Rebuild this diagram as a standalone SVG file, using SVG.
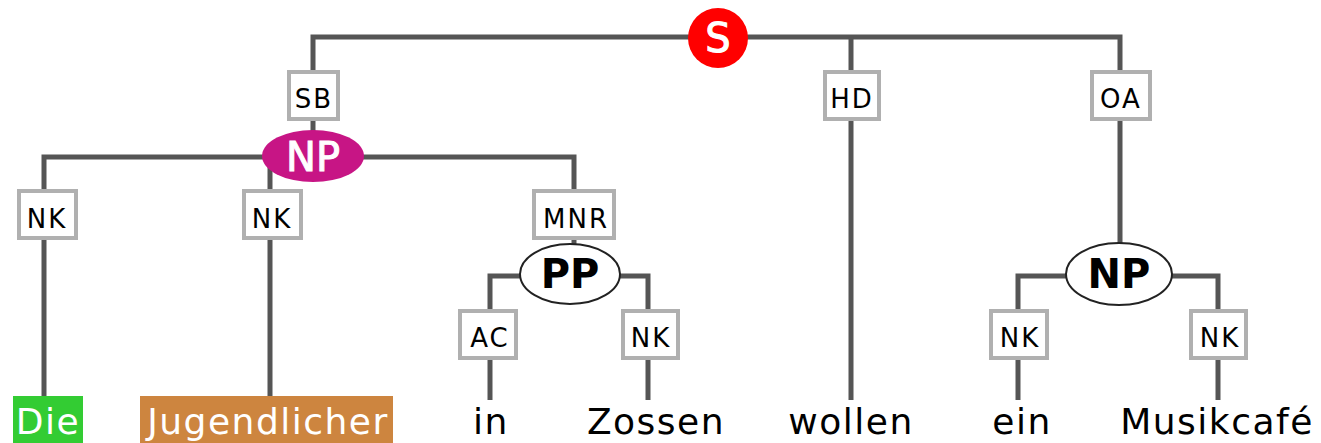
<svg xmlns="http://www.w3.org/2000/svg" width="1321" height="443" viewBox="0 0 1321 443">
<style>
.e{fill:none;stroke:#555;stroke-width:5}
.lb rect{fill:#fff;stroke:#b0b0b0;stroke-width:4}
.lb text{font-family:"DejaVu Sans",sans-serif;font-size:26px;letter-spacing:2px;fill:#000;text-anchor:middle}
.w{font-family:"DejaVu Sans",sans-serif;font-size:36px;letter-spacing:1.5px;text-anchor:middle;fill:#000}
.cat{font-family:"DejaVu Sans",sans-serif;font-size:40px;text-anchor:middle}
.b{font-weight:bold}
</style>
<rect width="1321" height="443" fill="#fff"/>
<g id="connectors">
<path class="e" d="M313 72V37H1120V72"/>
<path class="e" d="M851 37V72"/>
<path class="e" d="M313 120V140"/>
<path class="e" d="M44 190V157H574V190"/>
<path class="e" d="M270 157V190"/>
<path class="e" d="M44 238V396"/>
<path class="e" d="M270 238V396"/>
<path class="e" d="M574 238V250"/>
<path class="e" d="M490 310V276H648V310"/>
<path class="e" d="M490 358V400"/>
<path class="e" d="M648 358V400"/>
<path class="e" d="M851 120V400"/>
<path class="e" d="M1120 120V250"/>
<path class="e" d="M1018 310V276H1218V310"/>
<path class="e" d="M1018 358V400"/>
<path class="e" d="M1218 358V400"/>
</g>
<g id="S"><circle cx="718" cy="38" r="30" fill="#f00"/><text class="cat" x="718" y="52" fill="#fff" stroke="#fff" stroke-width="1">S</text></g>
<g id="e-SB" class="lb"><rect x="289" y="72" width="49" height="47"/><text x="314" y="108">SB</text></g>
<g id="e-HD" class="lb"><rect x="825" y="72" width="54" height="47"/><text x="852" y="108">HD</text></g>
<g id="e-OA" class="lb"><rect x="1092" y="72" width="58" height="47"/><text x="1121" y="108">OA</text></g>
<g id="NP1"><ellipse cx="313" cy="156" rx="51" ry="26" fill="#c71585"/><text class="cat" x="313" y="171" fill="#fff" stroke="#fff" stroke-width="1">NP</text></g>
<g id="e-NK1" class="lb"><rect x="19" y="191" width="57" height="47"/><text x="47" y="228">NK</text></g>
<g id="e-NK2" class="lb"><rect x="244" y="191" width="57" height="47"/><text x="272" y="228">NK</text></g>
<g id="e-MNR" class="lb"><rect x="534" y="191" width="80" height="47"/><text x="576" y="228">MNR</text></g>
<g id="PP"><ellipse cx="570" cy="274" rx="50" ry="30" fill="#fff" stroke="#222" stroke-width="2"/><text class="cat b" x="570" y="288" fill="#000">PP</text></g>
<g id="e-AC" class="lb"><rect x="460" y="311" width="56" height="47"/><text x="490" y="347">AC</text></g>
<g id="e-NK3" class="lb"><rect x="623" y="311" width="55" height="47"/><text x="651" y="347">NK</text></g>
<g id="NP2"><ellipse cx="1119" cy="274" rx="53" ry="31" fill="#fff" stroke="#222" stroke-width="2"/><text class="cat b" x="1119" y="288" fill="#000">NP</text></g>
<g id="e-NK4" class="lb"><rect x="991" y="311" width="56" height="47"/><text x="1020" y="347">NK</text></g>
<g id="e-NK5" class="lb"><rect x="1191" y="311" width="55" height="47"/><text x="1220" y="347">NK</text></g>
<g id="w-Die"><rect x="13" y="396" width="70" height="50" fill="#33cc33"/><text class="w" x="48" y="434" style="fill:#fff">Die</text></g>
<g id="w-Jugendlicher"><rect x="140" y="396" width="253" height="50" fill="#cd853f"/><text class="w" x="268" y="434" style="fill:#fff">Jugendlicher</text></g>
<g id="w-in"><text class="w" x="491" y="434">in</text></g>
<g id="w-Zossen"><text class="w" x="656" y="434">Zossen</text></g>
<g id="w-wollen"><text class="w" x="851" y="434">wollen</text></g>
<g id="w-ein"><text class="w" x="1022" y="434">ein</text></g>
<g id="w-Musikcafe"><text class="w" x="1217" y="434">Musikcafé</text></g>
</svg>
